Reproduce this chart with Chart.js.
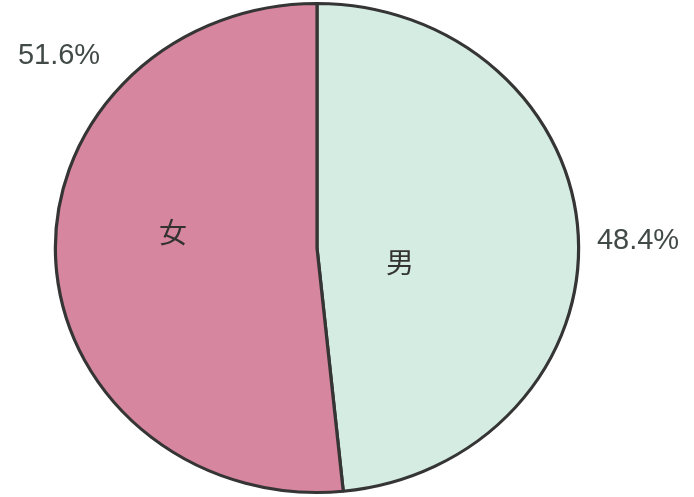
<!DOCTYPE html>
<html>
<head>
<meta charset="utf-8">
<script src="https://cdn.jsdelivr.net/npm/chart.js@4.4.0/dist/chart.umd.min.js"></script>
<style>
  html, body { margin: 0; padding: 0; background: #ffffff; }
  #wrap { width: 694px; height: 497px; position: relative; }
</style>
</head>
<body>
<div id="wrap"><canvas id="pie"></canvas></div>
<script>
const categories = ['男', '女'];
const shares = [48.4, 51.6];
const pctLabels = ['48.4%', '51.6%'];

// label placement relative to pie centre (px)
const namePos = [{ dx: 83, dy: 14 }, { dx: -144, dy: -16 }];
const pctPos = [{ dx: 321, dy: -7 }, { dx: -258, dy: -192 }];

// the scanned pie is a little wider than tall
const stretchX = 1.07;

const stretchPlugin = {
  id: 'stretch',
  beforeDatasetsDraw(chart) {
    const arc = chart.getDatasetMeta(0).data[0];
    const ctx = chart.ctx;
    ctx.save();
    ctx.translate(arc.x, arc.y);
    ctx.scale(stretchX, 1);
    ctx.translate(-arc.x, -arc.y);
  },
  afterDatasetsDraw(chart) {
    chart.ctx.restore();
  }
};

const labelPlugin = {
  id: 'pieLabels',
  afterDraw(chart) {
    const ctx = chart.ctx;
    const arcs = chart.getDatasetMeta(0).data;
    ctx.save();
    ctx.textAlign = 'center';
    ctx.textBaseline = 'middle';
    arcs.forEach((arc, i) => {
      const cx = arc.x, cy = arc.y;
      ctx.fillStyle = '#333333';
      ctx.font = '28px "Noto Sans CJK JP"';
      ctx.fillText(categories[i], cx + namePos[i].dx, cy + namePos[i].dy);
      ctx.fillStyle = '#414a46';
      ctx.font = '29px "Liberation Sans", Arial, sans-serif';
      ctx.fillText(pctLabels[i], cx + pctPos[i].dx, cy + pctPos[i].dy);
    });
    ctx.restore();
  }
};

new Chart(document.getElementById('pie'), {
  type: 'pie',
  data: {
    labels: categories,
    datasets: [{
      data: shares,
      backgroundColor: ['#d5ece3', '#d7869f'],
      borderColor: '#353535',
      borderWidth: 3,
      borderAlign: 'center'
    }]
  },
  options: {
    responsive: true,
    maintainAspectRatio: false,
    animation: false,
    rotation: 0,
    layout: { padding: { left: 71, right: 131, top: 2, bottom: 3 } },
    plugins: {
      legend: { display: false },
      tooltip: { enabled: false }
    }
  },
  plugins: [stretchPlugin, labelPlugin]
});
</script>
</body>
</html>
